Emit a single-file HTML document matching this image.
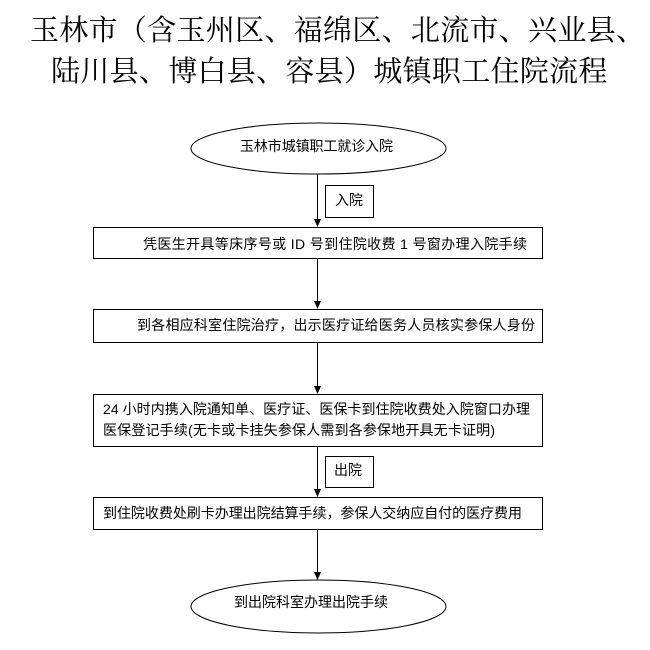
<!DOCTYPE html>
<html><head><meta charset="utf-8">
<style>
html,body{margin:0;padding:0;background:#fff;}
svg{display:block;}
.t{font-family:"Liberation Serif","Noto Serif CJK SC",serif;font-size:29px;fill:#000;letter-spacing:0.3px;}
.b{font-family:"Liberation Sans","Noto Sans CJK SC",sans-serif;font-size:14px;fill:#000;}
</style></head>
<body>
<svg width="650" height="650" viewBox="0 0 650 650" xmlns="http://www.w3.org/2000/svg">
<rect x="0" y="0" width="650" height="650" fill="#fff"/>
<text class="t" x="30" y="40">玉林市（含玉州区、福绵区、北流市、兴业县、</text>
<text class="t" x="51" y="81">陆川县、博白县、容县）城镇职工住院流程</text>

<g fill="none" stroke="#000" stroke-width="1">
<ellipse cx="318.5" cy="148.5" rx="127.5" ry="25.5"/>
<rect x="93.5" y="227.5" width="449" height="31"/>
<rect x="93.5" y="309.5" width="449" height="33"/>
<rect x="93.5" y="394.5" width="449" height="52"/>
<rect x="93.5" y="497.5" width="449" height="32"/>
<ellipse cx="318.5" cy="606.5" rx="127.5" ry="26.5"/>
<rect x="325.5" y="185.5" width="48" height="32"/>
<rect x="325.5" y="456.5" width="48" height="31"/>
<line x1="317.5" y1="174" x2="317.5" y2="221"/>
<line x1="317.5" y1="259" x2="317.5" y2="303"/>
<line x1="317.5" y1="343" x2="317.5" y2="388"/>
<line x1="317.5" y1="447" x2="317.5" y2="491"/>
<line x1="317.5" y1="530" x2="317.5" y2="574"/>
</g>
<g fill="#000">
<polygon points="314,219 321,219 317.5,227"/>
<polygon points="314,301 321,301 317.5,309"/>
<polygon points="314,386 321,386 317.5,394"/>
<polygon points="314,489 321,489 317.5,497"/>
<polygon points="314,572 321,572 317.5,580"/>
</g>

<text class="b" x="240" y="151" textLength="153" lengthAdjust="spacing">玉林市城镇职工就诊入院</text>
<text class="b" x="335" y="205">入院</text>
<text class="b" x="143" y="249" xml:space="preserve" textLength="384" lengthAdjust="spacing">凭医生开具等床序号或 ID 号到住院收费 1 号窗办理入院手续</text>
<text class="b" x="137" y="330" textLength="398" lengthAdjust="spacing">到各相应科室住院治疗，出示医疗证给医务人员核实参保人身份</text>
<text class="b" x="103" y="414" xml:space="preserve" textLength="427" lengthAdjust="spacing">24 小时内携入院通知单、医疗证、医保卡到住院收费处入院窗口办理</text>
<text class="b" x="103" y="435" textLength="392" lengthAdjust="spacing">医保登记手续(无卡或卡挂失参保人需到各参保地开具无卡证明)</text>
<text class="b" x="334" y="475">出院</text>
<text class="b" x="103" y="518" textLength="419" lengthAdjust="spacing">到住院收费处刷卡办理出院结算手续，参保人交纳应自付的医疗费用</text>
<text class="b" x="234" y="607" textLength="154" lengthAdjust="spacing">到出院科室办理出院手续</text>
</svg>
</body></html>
